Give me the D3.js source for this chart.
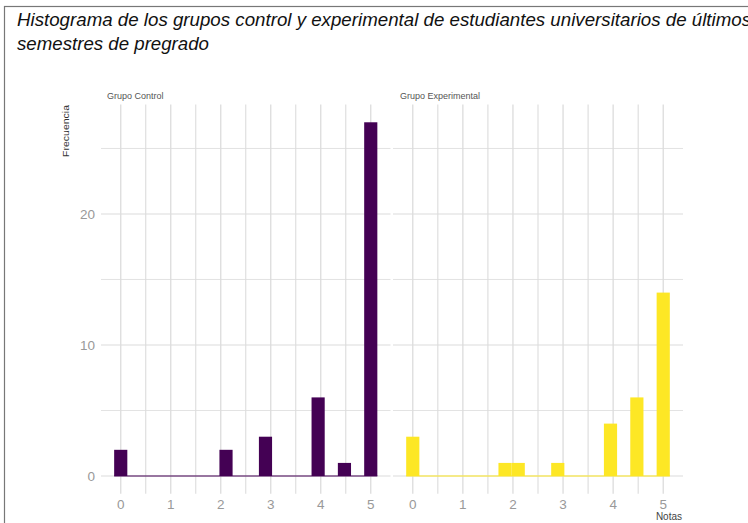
<!DOCTYPE html>
<html>
<head>
<meta charset="utf-8">
<script src="https://cdn.jsdelivr.net/npm/d3@7"></script>
<style>
  html, body { margin: 0; padding: 0; background: #fff; }
  svg { display: block; }
</style>
</head>
<body>
<svg id="chart" width="748" height="523"></svg>
<script>
// ---- data ----
const titleLines = [
  "Histograma de los grupos control y experimental de estudiantes universitarios de últimos",
  "semestres de pregrado"
];
const panels = ["Grupo Control", "Grupo Experimental"];
const panelColors = ["#440154", "#FDE725"];
// 20 bins centred at k*5/19 (k = 0..19)
const binCount = 20;
const binWidth = 5 / 19;
const controlCounts      = [2,0,0,0,0,0,0,0,2,0,0,3,0,0,0,6,0,1,0,27];
const experimentalCounts = [3,0,0,0,0,0,0,1,1,0,0,1,0,0,0,4,0,6,0,14];
const xTicks = [0, 1, 2, 3, 4, 5];
const xMinor = [0.5, 1.5, 2.5, 3.5, 4.5];
const yTicks = [0, 10, 20];
const yMinor = [5, 15, 25];
const xTitle = "Notas";
const yTitle = "Frecuencia";

// ---- drawing ----
const svg = d3.select("#chart");
svg.append("rect").attr("x", 4.5).attr("y", 6.5).attr("width", 760).attr("height", 530)
  .attr("fill", "none").attr("stroke", "#777").attr("stroke-width", 1.2);

const titleWidths = [734, 192];
titleLines.forEach((t, i) => {
  svg.append("text")
    .attr("font-family", "Liberation Sans, Arial, sans-serif")
    .attr("font-style", "italic").attr("font-size", 17.5).attr("fill", "#111")
    .attr("x", 17).attr("y", 26 + i * 24)
    .attr("textLength", titleWidths[i]).attr("lengthAdjust", "spacingAndGlyphs")
    .text(t);
});

const seriesCounts = [controlCounts, experimentalCounts];
const xLo = -binWidth / 2 - 0.05 * (5 + binWidth);
const xHi = 5 + binWidth / 2 + 0.05 * (5 + binWidth);
const yMax = 27;
const y = d3.scaleLinear().domain([-0.05 * yMax, yMax * 1.05]).range([493.7, 104.6]);
const panelX = [[101, 390.5], [393, 683]];
const font = "Liberation Sans, Arial, sans-serif";

panels.forEach((name, p) => {
  const x = d3.scaleLinear().domain([xLo, xHi]).range(panelX[p]);
  const g = svg.append("g");
  const [top, bottom] = [y.range()[1], y.range()[0]];
  // grid
  const gridColor = "#dcdcdc";
  g.selectAll(".hmin").data(yMinor).join("line")
    .attr("x1", panelX[p][0]).attr("x2", panelX[p][1])
    .attr("y1", d => y(d)).attr("y2", d => y(d))
    .attr("stroke", gridColor).attr("stroke-width", 0.8);
  g.selectAll(".hmaj").data(yTicks).join("line")
    .attr("x1", panelX[p][0]).attr("x2", panelX[p][1])
    .attr("y1", d => y(d)).attr("y2", d => y(d))
    .attr("stroke", gridColor).attr("stroke-width", 1.1);
  g.selectAll(".vmin").data(xMinor).join("line")
    .attr("x1", d => x(d)).attr("x2", d => x(d))
    .attr("y1", top).attr("y2", bottom)
    .attr("stroke", gridColor).attr("stroke-width", 1.1);
  g.selectAll(".vmaj").data(xTicks).join("line")
    .attr("x1", d => x(d)).attr("x2", d => x(d))
    .attr("y1", top).attr("y2", bottom)
    .attr("stroke", gridColor).attr("stroke-width", 1.3);

  // bars
  const counts = seriesCounts[p];
  const bins = counts.map((c, k) => ({ x0: k * binWidth - binWidth / 2, x1: k * binWidth + binWidth / 2, c }));
  g.selectAll(".bar").data(bins).join("rect")
    .attr("x", d => x(d.x0)).attr("width", d => x(d.x1) - x(d.x0))
    .attr("y", d => y(d.c)).attr("height", d => y(0) - y(d.c))
    .attr("fill", panelColors[p]);
  g.append("line")
    .attr("x1", x(bins[0].x0)).attr("x2", x(bins[bins.length - 1].x1))
    .attr("y1", y(0)).attr("y2", y(0))
    .attr("stroke", panelColors[p]).attr("stroke-width", 1.2);

  // x tick labels
  g.selectAll(".xl").data(xTicks).join("text")
    .attr("x", d => x(d)).attr("y", 508.5)
    .attr("text-anchor", "middle").attr("font-family", font)
    .attr("font-size", 13.5).attr("fill", "#999")
    .text(d => d);

  // strip label
  g.append("text").attr("x", panelX[p][0] + (p === 0 ? 6 : 7)).attr("y", 99)
    .attr("font-family", font).attr("font-size", 9).attr("fill", "#555")
    .text(name);
});

// y tick labels
svg.selectAll(".yl").data(yTicks).join("text")
  .attr("x", 95).attr("y", d => y(d) + 5)
  .attr("text-anchor", "end").attr("font-family", font)
  .attr("font-size", 13.5).attr("fill", "#999")
  .text(d => d);

// axis titles
svg.append("text").attr("transform", "translate(69,105) scale(0.85,1) rotate(-90)")
  .attr("text-anchor", "end").attr("font-family", font)
  .attr("font-size", 10.5).attr("fill", "#333").text(yTitle);
svg.append("text").attr("x", 682).attr("y", 520)
  .attr("text-anchor", "end").attr("font-family", font)
  .attr("font-size", 10).attr("fill", "#444").text(xTitle);
</script>
</body>
</html>
